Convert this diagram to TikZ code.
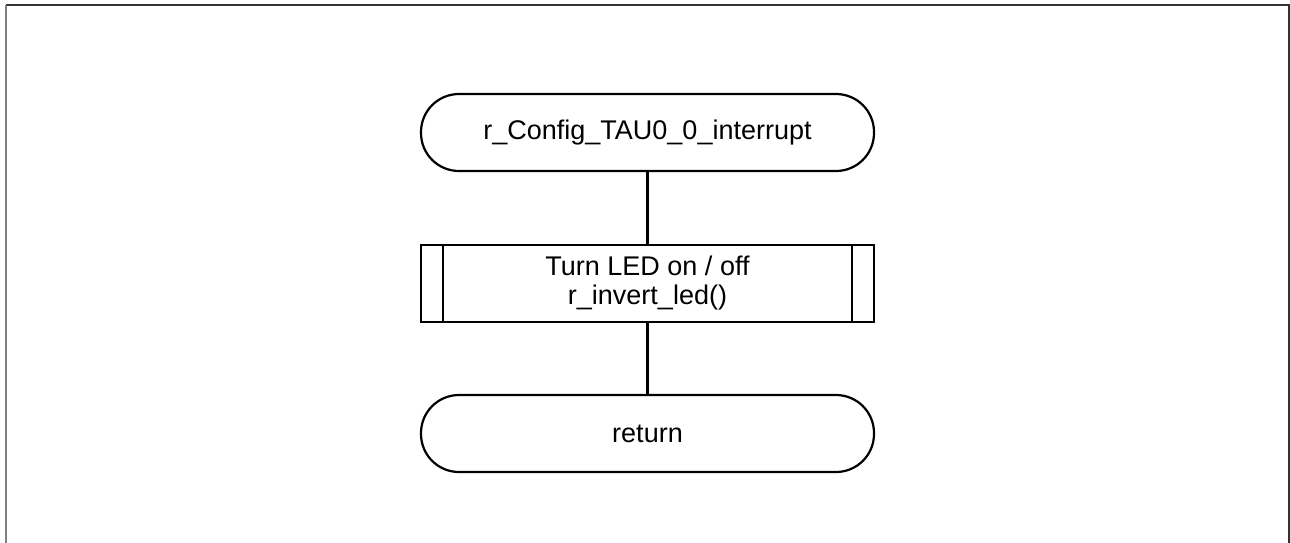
\documentclass[tikz,border=0pt]{standalone}
\usepackage{fontspec}
\setmainfont{Liberation Sans}
\usetikzlibrary{calc}
\begin{document}
\begin{tikzpicture}[x=1pt,y=-1pt,
  line width=2.2pt,
  txt/.style={font=\fontsize{27}{29}\selectfont, align=center},
  term/.style={txt, draw, rounded corners=38pt, minimum width=453pt, minimum height=77pt, inner sep=0pt},
  proc/.style={txt, draw, minimum width=453pt, minimum height=77pt, inner sep=0pt},
  conn/.style={draw, line width=2.2pt}]
\useasboundingbox (0,0) rectangle (1290,542);
\draw[line width=2.2pt, black!80] (6,5) -- (1289,5) -- (1289,545);
\draw[line width=2.5pt, black!50] (6,5) -- (6,545);
\node[term] (start) at (647.5,132.5) {r\_Config\_TAU0\_0\_interrupt};
\node[proc] (led) at (647.5,283.5) {Turn LED on / off\\r\_invert\_led()};
\node[term] (ret) at (647.5,433.5) {return};
\draw ($(led.north west)+(23,0)$) -- ($(led.south west)+(23,0)$);
\draw ($(led.north east)+(-23,0)$) -- ($(led.south east)+(-23,0)$);
\draw[conn] (start) -- (led);
\draw[conn] (led) -- (ret);
\end{tikzpicture}
\end{document}
